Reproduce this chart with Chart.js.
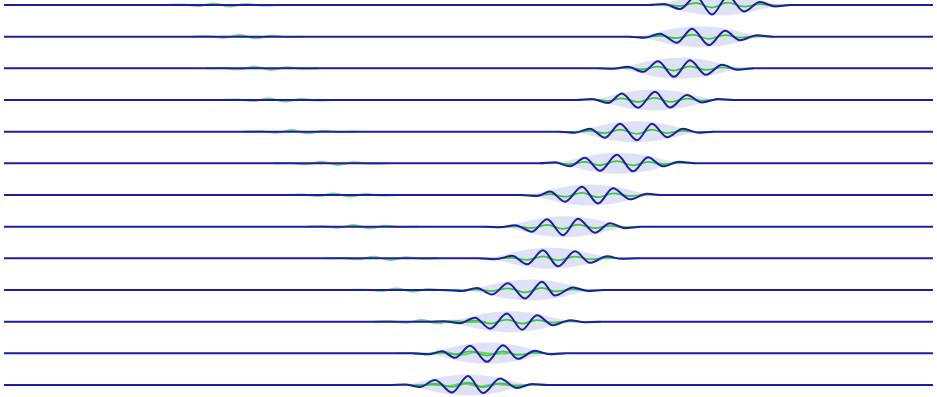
<!DOCTYPE html>
<html>
<head>
<meta charset="utf-8">
<script src="https://cdn.jsdelivr.net/npm/chart.js"></script>
<style>
  html, body { margin: 0; padding: 0; background: #ffffff; }
  #wrap { width: 937px; height: 397px; }
</style>
</head>
<body>
<div id="wrap"><canvas id="packetChart" width="937" height="397"></canvas></div>
<script>
// ---- data (x in trace units, amplitude in trace units) ----
const traceStart = 4;
const traceEnd = 933;

// extrema of the blue trace, one list per row (top to bottom)
const blueX = [
    [664, 680, 696, 712, 728, 744, 760, 775],
    [645, 660, 677, 692, 709, 725, 740, 757],
    [613, 628, 643, 658, 674, 690, 706, 722, 738],
    [592, 608, 622, 638, 655, 670, 687, 702, 718],
    [575, 590, 605, 620, 637, 652, 667, 683, 698],
    [555, 570, 585, 600, 617, 633, 648, 663, 679],
    [537, 550, 565, 582, 598, 613, 630, 647],
    [500, 515, 532, 547, 563, 578, 595, 610, 625],
    [495, 512, 527, 543, 558, 575, 590, 607, 622],
    [462, 477, 492, 508, 525, 542, 555, 573, 588],
    [444, 460, 475, 490, 507, 522, 537, 553, 570, 585],
    [428, 442, 455, 470, 487, 503, 518, 535, 550],
    [405, 420, 435, 452, 468, 483, 500, 517, 532]
];
const blueAmp = [
    [1, -4, 8.5, -9.5, 9, -6.5, 3, -1.5],
    [-1, 3, -6, 8, -8.5, 6, -3.5, 1.5],
    [-0.5, 1.5, -3.5, 7, -8.5, 8, -6.5, 3.5, -1.5],
    [1, -3, 6.5, -7.7, 8.3, -7.5, 5, -2.5, 1],
    [-1, 3, -6, 8, -8.5, 8, -5.5, 3, -1],
    [1, -3, 5.5, -7.5, 8.5, -8, 6, -3, 1.5],
    [-1, 3.5, -6.7, 8.3, -8.5, 6.7, -4.3, 1.2],
    [-0.5, 1.5, -5, 7.5, -8.5, 8, -6, 3.5, -1.5],
    [-1, 2.5, -6, 8, -8, 7, -4.5, 2, -0.5],
    [-1, 2, -4.5, 6.7, -8.5, 8.3, -5.5, 2.5, -1],
    [0.5, -1.5, 4, -7, 8.3, -8, 6.5, -3.5, 1.5, -0.5],
    [-1, 2, -4.5, 7.5, -8.5, 8, -5.5, 2.5, -1],
    [0.5, -2, 5, -7.5, 9, -8, 6.5, -3, 1]
];
// green trace under the packet (same extrema positions, smaller swing)
const greenAmp = [
    [0.3, -1, 2, -2.5, 2.3, -1.6, 0.8, -0.4],
    [-0.3, 0.8, -1.5, 2, -2.2, 1.5, -0.9, 0.4],
    [-0.1, 0.4, -0.9, 1.8, -2.2, 2, -1.6, 0.9, -0.4],
    [0.3, -0.8, 1.6, -2, 2.1, -1.9, 1.3, -0.6, 0.3],
    [-0.3, 0.8, -1.5, 2, -2.2, 2, -1.4, 0.8, -0.3],
    [0.3, -0.8, 1.4, -1.9, 2.2, -2, 1.5, -0.8, 0.4],
    [-0.3, 0.9, -1.7, 2.1, -2.2, 1.7, -1.1, 0.3],
    [-0.1, 0.4, -1.3, 1.9, -2.2, 2, -1.5, 0.9, -0.4],
    [-0.3, 0.6, -1.5, 2, -2, 1.8, -1.1, 0.5, -0.1],
    [-0.3, 0.5, -1.1, 1.7, -2.2, 2.1, -1.4, 0.6, -0.3],
    [0.1, -0.4, 1, -1.8, 2.1, -2, 1.6, -0.9, 0.4, -0.1],
    [-0.3, 0.5, -1.1, 1.9, -2.2, 2, -1.4, 0.6, -0.3],
    [0.1, -0.5, 1.3, -1.9, 2.3, -2, 1.6, -0.8, 0.3]
];

// light envelope behind each packet
const envelopeCenter = [718, 700, 680, 654, 636, 618, 590, 565, 550, 530, 510, 488, 468];
const envelopeOffset = [-62, -48, -32, -16, 0, 16, 32, 48, 62];
const envelopeHalf = [0, 3, 7, 9.5, 10.5, 9.5, 7, 3, 0];

// faint green echo on the left of each row
const echoCenter = [222, 248, 263, 277, 300, 330, 342, 362, 382, 405, 430, 452, 472];
const echoOffset = [-40, -24, -8, 8, 24, 40];
const echoAmp = [0.4, -1, 1.6, -1.6, 1, -0.4];

const ROW_GAP = 31.67;
const BLUE = '#1e1ea0';
const GREEN = '#3cc83c';
const SHADE = 'rgba(196, 202, 238, 0.55)';

function padded(xs, ys, base, from, to) {
    const pts = [];
    if (from !== undefined) pts.push({ x: from, y: base });
    pts.push({ x: xs[0] - 16, y: base });
    xs.forEach((x, i) => pts.push({ x: x, y: base + ys[i] }));
    pts.push({ x: xs[xs.length - 1] + 16, y: base });
    if (to !== undefined) pts.push({ x: to, y: base });
    return pts;
}

const datasets = [];
blueX.forEach((xs, r) => {
    const base = -r * ROW_GAP;

    const envX = envelopeOffset.map(o => envelopeCenter[r] + o);
    datasets.push({
        data: envX.map((x, i) => ({ x: x, y: base + envelopeHalf[i] })),
        borderWidth: 0, borderColor: 'rgba(0,0,0,0)', fill: false, order: 3
    });
    datasets.push({
        data: envX.map((x, i) => ({ x: x, y: base - envelopeHalf[i] })),
        borderWidth: 0, borderColor: 'rgba(0,0,0,0)', backgroundColor: SHADE,
        fill: '-1', order: 3
    });

    const echoX = echoOffset.map(o => echoCenter[r] + o);
    datasets.push({
        data: padded(echoX, echoAmp, base),
        borderColor: 'rgba(60, 200, 60, 0.7)', borderWidth: 2, order: 2
    });

    datasets.push({
        data: padded(xs, greenAmp[r], base),
        borderColor: GREEN, borderWidth: 1.8, order: 1
    });

    datasets.push({
        data: padded(xs, blueAmp[r], base, traceStart, traceEnd),
        borderColor: BLUE, borderWidth: 2, order: 0
    });
});

new Chart(document.getElementById('packetChart').getContext('2d'), {
    type: 'line',
    data: { datasets: datasets },
    options: {
        responsive: false,
        animation: false,
        layout: { padding: 0 },
        elements: {
            point: { radius: 0 },
            line: { cubicInterpolationMode: 'monotone', fill: false }
        },
        scales: {
            x: { type: 'linear', min: 0, max: 937, display: false },
            y: { type: 'linear', min: -392, max: 5, display: false }
        },
        plugins: {
            legend: { display: false },
            tooltip: { enabled: false }
        }
    }
});
</script>
</body>
</html>
